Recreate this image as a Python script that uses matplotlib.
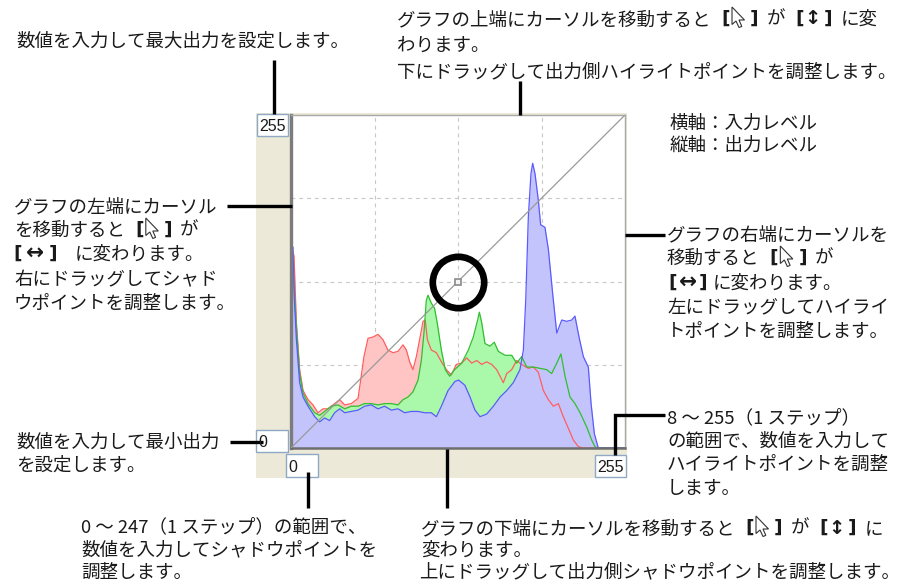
import matplotlib
matplotlib.use("Agg")
import matplotlib.pyplot as plt
from matplotlib.patches import Rectangle, Polygon

plt.rcParams['font.family'] = ['Noto Sans CJK JP', 'DejaVu Sans']

# histogram of the image, one series per channel (input level -> height on 0..255 graph scale)
red_levels = [0, 1.5, 2.3, 4.1, 6.6, 9.2, 13, 16.8, 20.6, 24.4, 28.2, 33.3, 37.2, 41, 46, 51.2,
              53.2, 55.7, 58.8, 62.6, 66.4, 70.2, 74, 77.9, 81.7, 85.5, 88.1, 90.6, 93.1, 95.7,
              98.2, 100.8, 102.5, 104.1, 107.1, 111, 114.8, 118.6, 122.4, 126.2, 130.3, 134.1,
              137.9, 141.8, 145.6, 149.4, 153.2, 157, 159.6, 162.1, 164.7, 168.5, 172.3, 176.1,
              181.2, 185, 188.8, 192.7, 196.5, 200.3, 204.1, 207.9, 211.8, 215.6, 219.4, 223, 255]
red_counts = [150, 150, 147, 96, 60, 44, 37, 33, 27, 30, 30, 34, 37, 33, 34, 38,
              52, 70, 84, 85, 87, 83, 75, 73, 74, 79, 75, 66, 60, 70,
              83, 97, 98, 83, 75, 73, 66, 60, 56, 64, 65, 69,
              65, 67, 64, 66, 64, 60, 55, 50, 57, 60, 67, 64,
              61, 62, 58, 44, 37, 32, 34, 24, 15, 6, 1, 0, 0]

green_levels = [0, 1.5, 2.3, 4.1, 6.6, 9.2, 13, 18.1, 21.9, 25.7, 30.8, 35.9, 41, 46, 51.2, 56.2,
                61.3, 66.4, 71.5, 76.6, 81.7, 85.5, 89.3, 93.1, 97, 99.5, 101.5, 103.3, 104.6,
                107.1, 109.6, 111.6, 114.8, 117.8, 121.1, 124.9, 130.3, 135.4, 139.2, 142.5, 143.8,
                145.6, 148.1, 151.9, 155.2, 158.3, 163.4, 168.5, 172.3, 176.1, 180, 185, 190.1,
                195.2, 199, 202.9, 206.1, 209.2, 213, 216.8, 220.7, 225.8, 229.6, 232.1, 234, 255]
green_counts = [139, 135, 124, 93, 57, 42, 34, 27, 25, 28, 32, 33, 30, 32, 32, 34,
                34, 33, 34, 34, 33, 37, 39, 43, 52, 67, 88, 113, 117,
                111, 107, 96, 75, 60, 55, 60, 65, 75, 85, 98, 104,
                96, 80, 78, 81, 74, 71, 71, 65, 70, 62, 62, 61,
                60, 57, 65, 72, 55, 39, 34, 27, 16, 6, 1, 0, 0]

blue_levels = [0, 1.5, 2.5, 4.1, 6.6, 9.2, 13, 18.1, 21.9, 25.7, 29.5, 33.3, 37.2, 41, 46, 51.2,
               56.2, 61.3, 66.4, 71.5, 76.6, 81.7, 86.8, 91.9, 97, 102, 107.1, 111, 114.8, 119.9,
               125.2, 128, 132.8, 136.7, 140.5, 144.3, 149.4, 154.5, 159.6, 164.7, 169.7, 174.8,
               177.4, 179.2, 181.2, 183.2, 184.5, 186.3, 188.8, 190.6, 193.9, 196.5, 199.8, 202.9,
               206.7, 210.5, 214.3, 216.8, 219.9, 223.2, 227, 229.1, 231.6, 234.6, 255]
blue_counts = [154, 154, 115, 83, 50, 39, 32, 24, 20, 23, 21, 27, 30, 27, 28, 29,
               32, 33, 30, 32, 29, 30, 27, 28, 28, 27, 27, 24, 32, 44,
               51, 52, 48, 39, 29, 24, 26, 32, 39, 44, 50, 60,
               75, 113, 177, 210, 218, 210, 190, 171, 169, 152, 118, 88,
               98, 97, 98, 101, 85, 70, 62, 34, 11, 0, 0]

# tone curve (straight, no change) and its middle control point
curve_in = [0, 255]
curve_out = [0, 255]
point_in = [127.5]
point_out = [127.5]
grid_levels = [63.75, 127.5, 191.25]

# values shown in the input boxes
out_max_value = "255"
out_min_value = "0"
shadow_value = "0"
highlight_value = "255"

ink = '#1a1a1a'
fsize = 13.3
em = fsize * 100 / 72

fig = plt.figure(figsize=(9, 5.85), dpi=100)
fig.patch.set_facecolor('white')

# background layer: dialog panel
bg = fig.add_axes([0, 0, 1, 1], zorder=0)
bg.set_xlim(0, 900)
bg.set_ylim(585, 0)
bg.axis('off')
bg.add_patch(Rectangle((256, 113), 371, 365, facecolor='#ece9d8', edgecolor='none'))

# the curve graph itself
ax = fig.add_axes([291 / 900, (585 - 448) / 585, 334 / 900, 333 / 585], zorder=1)
ax.set_xlim(0, 255)
ax.set_ylim(0, 255)
ax.set_facecolor('white')
ax.set_xticks(grid_levels)
ax.set_yticks(grid_levels)
ax.tick_params(length=0, labelbottom=False, labelleft=False)
ax.set_axisbelow(True)
ax.grid(True, color='#c8c8c8', lw=0.8, linestyle=(0, (3.5, 3.5)))
for side in ['top', 'right']:
    ax.spines[side].set_color('#a8a8a8')
    ax.spines[side].set_linewidth(1.0)
ax.spines['left'].set_color('#7c7c7c')
ax.spines['left'].set_linewidth(2.4)
ax.spines['bottom'].set_color('#6e6e6e')
ax.spines['bottom'].set_linewidth(1.8)

ax.fill_between(red_levels, red_counts, color='#ffc4c4', lw=0, zorder=1)
ax.fill_between(green_levels, green_counts, color='#aaf8aa', lw=0, zorder=1.1)
ax.fill_between(blue_levels, blue_counts, color='#c4c4fc', lw=0, zorder=1.2)
ax.plot(red_levels, red_counts, color='#ff5e5e', lw=0.9, zorder=2)
ax.plot(green_levels, green_counts, color='#2fbf2f', lw=0.9, zorder=2.1)
ax.plot(blue_levels, blue_counts, color='#5a5aff', lw=0.9, zorder=2.2)
ax.plot(curve_in, curve_out, color='#9a9a9a', lw=0.9, zorder=3)
ax.plot(point_in, point_out, marker='s', ms=4, mfc='#f4f4f4', mec='#8a8a8a', mew=1.2, zorder=4)
ax.plot(point_in, point_out, marker='o', ms=37, mfc='none', mec='black', mew=4.8, zorder=5)

# foreground layer: boxes, leaders and notes in pixel units
ov = fig.add_axes([0, 0, 1, 1], zorder=2)
ov.set_xlim(0, 900)
ov.set_ylim(585, 0)
ov.axis('off')
ov.patch.set_alpha(0)


def value_box(x, y, w, h, s):
    ov.add_patch(Rectangle((x, y), w, h, facecolor='white', edgecolor='#8fa9c4', lw=1.0))
    ov.text(x + 2.5, y + h - 5, s, family='Liberation Sans', fontsize=11.5,
            color=ink, ha='left', va='baseline')


value_box(257, 114, 31, 22, out_max_value)
value_box(256, 430, 32, 22, out_min_value)
value_box(286, 454, 32, 23, shadow_value)
value_box(595, 455, 31, 22, highlight_value)


def leader(xs, ys):
    ov.plot(xs, ys, color='black', lw=2.4, solid_capstyle='butt', solid_joinstyle='miter')


leader([274, 274], [60, 114])
leader([520, 520], [81, 115])
leader([227, 292], [206, 206])
leader([625, 665], [235, 235])
leader([230, 263], [442, 442])
leader([308, 308], [472, 508])
leader([447, 447], [449, 508])
leader([665, 615, 615], [415, 415, 455])


def cursor(x, y):
    pts = [(0, 0), (0, 17.5), (4, 14), (7, 20.5), (9.8, 19.4), (7, 13), (12.5, 13)]
    ov.add_patch(Polygon([(x + px, y + py) for px, py in pts], closed=True,
                         facecolor='white', edgecolor='#333333', lw=0.8))


def glyph(cx, y, ch, size=fsize):
    ov.text(cx, y, ch, family='DejaVu Sans', fontweight='bold', fontsize=size,
            color=ink, ha='center', va='baseline')


def plain(x, y, s):
    ov.text(x, y, s, fontsize=fsize, color=ink, ha='left', va='baseline')


def note(x, y, s):
    # every character takes one em cell; brackets and icons are drawn on their own
    seg, start = '', 0
    for i, ch in enumerate(s + '\n'):
        cx = x + i * em
        if ch in '［］@↕↔\n':
            if seg:
                plain(x + start * em, y, seg)
            seg = ''
            if ch == '［':
                glyph(cx + 0.78 * em, y - 1.5, '[')
            elif ch == '］':
                glyph(cx + 0.35 * em, y - 1.5, ']')
            elif ch == '@':
                cursor(cx + 2.5, y - 18)
            elif ch == '↕':
                glyph(cx + em / 2, y - 0.5, ch, 14)
            elif ch == '↔':
                glyph(cx + em / 2, y - 1, ch, 15)
        else:
            if not seg:
                start = i
            seg += ch


def arrow_note(x_open, x_arrow, x_close, x_text, y, rest):
    glyph(x_open, y - 1.5, '[')
    glyph(x_arrow, y - 1, '↔', 15.5)
    glyph(x_close, y - 1.5, ']')
    plain(x_text, y, rest)


note(16, 47, '数値を入力して最大出力を設定します。')

note(397, 25, 'グラフの上端にカーソルを移動すると［@］が［↕］に変')
note(397, 51, 'わります。')
note(397, 77, '下にドラッグして出力側ハイライトポイントを調整します。')

note(670, 129, '横軸：入力レベル')
note(670, 151, '縦軸：出力レベル')

note(14, 212, 'グラフの左端にカーソル')
note(14, 236, 'を移動すると［@］が')
arrow_note(17.5, 35, 52.5, 75, 260, 'に変わります。')
note(14, 285, '右にドラッグしてシャド')
note(14, 309, 'ウポイントを調整します。')

note(667, 240, 'グラフの右端にカーソルを')
note(667, 264, '移動すると［@］が')
arrow_note(672.5, 688, 703, 713, 289, 'に変わります。')
note(667, 313, '左にドラッグしてハイライ')
note(667, 337, 'トポイントを調整します。')

note(16, 448, '数値を入力して最小出力')
note(16, 471, 'を設定します。')

for k, s in enumerate(['8 ～ 255（1 ステップ）', 'の範囲で、数値を入力して',
                       'ハイライトポイントを調整', 'します。']):
    plain(667, 423 + k * 23.6, s)

for k, s in enumerate(['0 ～ 247（1 ステップ）の範囲で、', '数値を入力してシャドウポイントを',
                       '調整します。']):
    plain(81, 532 + k * 23, s)

note(421, 534, 'グラフの下端にカーソルを移動すると［@］が［↕］に')
note(421, 556, '変わります。')
note(419, 577, '上にドラッグして出力側シャドウポイントを調整します。')

fig.savefig('out.png', dpi=100)
